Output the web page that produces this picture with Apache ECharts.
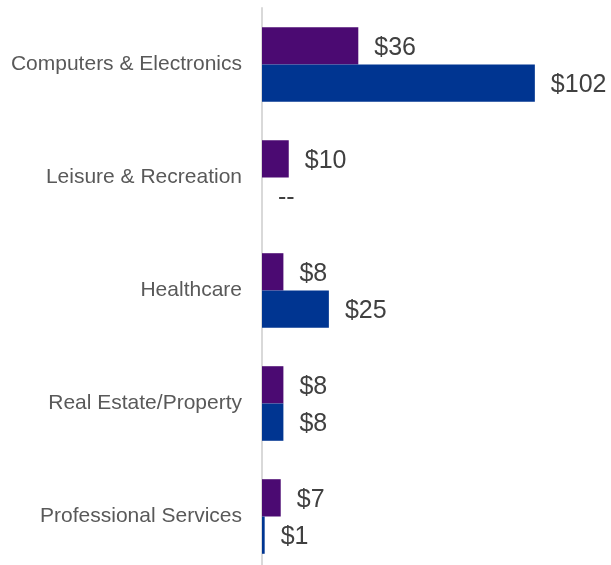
<!DOCTYPE html>
<html><head><meta charset="utf-8">
<script src="https://cdn.jsdelivr.net/npm/echarts@6/dist/echarts.min.js"></script>
<style>html,body{margin:0;padding:0;background:#fff;overflow:hidden}#c{width:611px;height:573px}</style>
</head><body><div id="c"></div>
<script>
const categories = ["Computers & Electronics", "Leisure & Recreation", "Healthcare", "Real Estate/Property", "Professional Services"];
const seriesA = [36, 10, 8, 8, 7];
const seriesB = [102, null, 25, 8, 1];

const chart = echarts.init(document.getElementById('c'));
chart.setOption({
  animation: false,
  textStyle: { fontFamily: 'Liberation Sans, Arial, sans-serif' },
  grid: { left: 262, top: 8, bottom: 0, width: 321 },
  xAxis: { type: 'value', min: 0, max: 120, show: false, splitLine: { show: false } },
  yAxis: {
    type: 'category', data: categories, inverse: true,
    axisLine: { show: true, lineStyle: { color: '#d9d9d9', width: 2 } },
    axisTick: { show: false },
    axisLabel: { color: '#595959', fontSize: 21, margin: 20, padding: [4, 0, 0, 0],
      fontFamily: 'Liberation Sans, Arial, sans-serif' }
  },
  series: [
    {
      type: 'bar', data: seriesA, barGap: '0%', barCategoryGap: '34%',
      itemStyle: { color: '#4B0A72' },
      label: { show: true, position: 'right', distance: 16, offset: [0, 2], color: '#404040', fontSize: 25,
        formatter: p => '$' + p.value }
    },
    {
      type: 'bar', data: seriesB.map(v => v === null ? 0 : v),
      itemStyle: { color: '#003591' },
      label: { show: true, position: 'right', distance: 16, offset: [0, 2], color: '#404040', fontSize: 25,
        formatter: p => seriesB[p.dataIndex] === null ? '--' : '$' + p.value }
    }
  ]
});
</script></body></html>
